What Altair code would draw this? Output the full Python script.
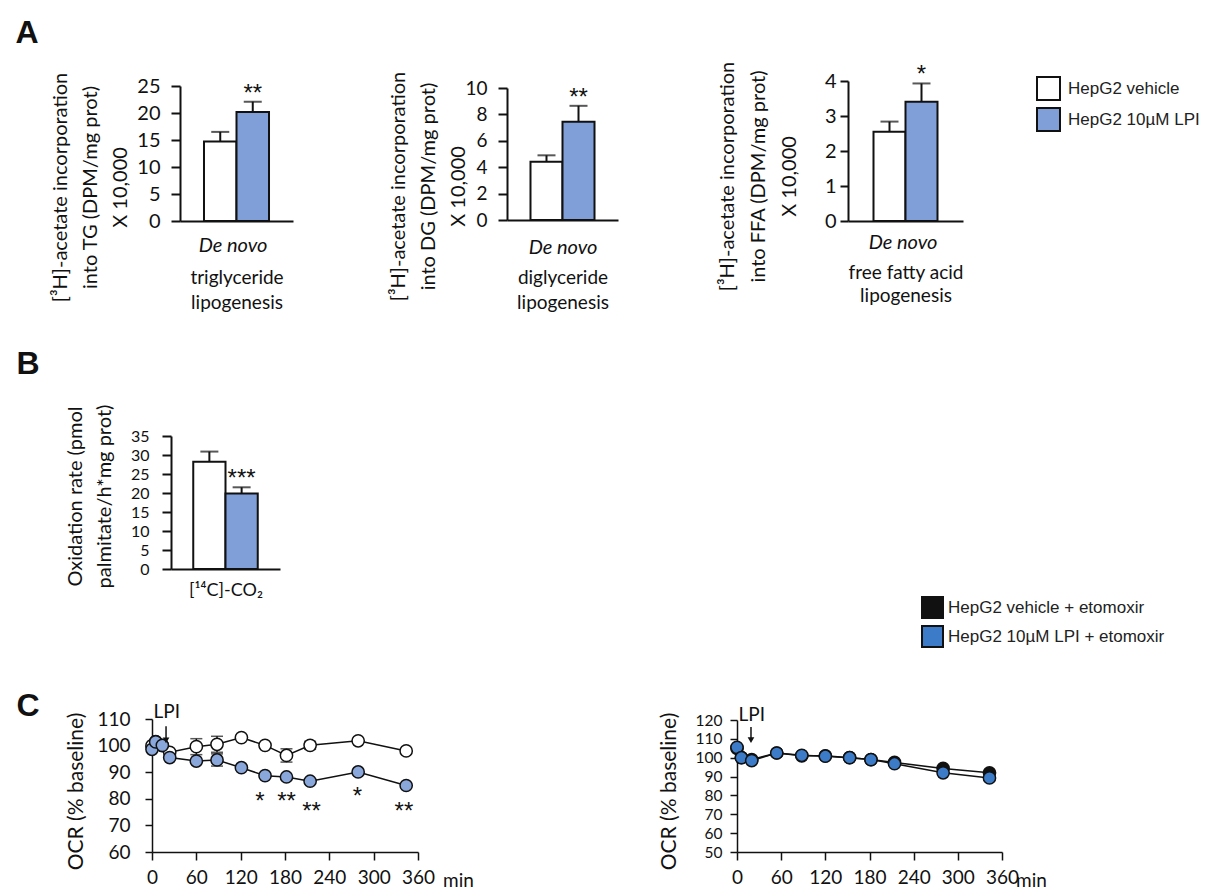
import altair as alt
import pandas as pd

W, H = 1229, 893
FONT = "Lato"
LFONT = "Liberation Sans"
INK = "#111111"
LIGHT_BLUE = "#809fd8"
C1_BLUE = "#8aa7dc"
C2_BLUE = "#3c7bc8"

# ---------------- data ----------------
groups = ["HepG2 vehicle", "HepG2 10µM LPI"]
groups_eto = ["HepG2 vehicle + etomoxir", "HepG2 10µM LPI + etomoxir"]

tg_mean = [14.7, 20.2]
tg_err = [1.8, 1.9]
tg_star = ["", "**"]

dg_mean = [4.42, 7.45]
dg_err = [0.48, 1.2]
dg_star = ["", "**"]

ffa_mean = [2.55, 3.41]
ffa_err = [0.29, 0.52]
ffa_star = ["", "*"]

ox_mean = [28.2, 19.9]
ox_err = [2.7, 1.6]
ox_star = ["", "***"]

c1_time = [0, 5, 14, 24, 60, 88, 121, 153, 182, 214, 279, 344]
c1_veh = [100.0, 101.5, 100.0, 97.5, 99.6, 100.5, 103.0, 100.1, 96.3, 100.1, 101.8, 98.0]
c1_veh_err = [1.0, 1.0, 1.0, 1.0, 3.0, 3.0, 1.0, 1.0, 2.5, 1.5, 1.0, 1.0]
c1_lpi = [98.6, 101.4, 100.1, 95.5, 94.2, 94.6, 91.7, 88.7, 88.2, 86.6, 90.1, 85.0]
c1_lpi_err = [1.0, 1.0, 1.0, 1.0, 1.0, 2.3, 1.0, 1.0, 1.0, 1.0, 1.0, 1.0]
c1_star_time = [146, 182, 216, 278, 341]
c1_star_y = [80.8, 80.8, 77.0, 82.7, 77.0]
c1_star_txt = ["*", "**", "**", "*", "**"]

c2_time = [0, 6, 20, 54, 88, 120, 153, 182, 214, 280, 343]
c2_veh = [105.0, 100.0, 99.0, 102.5, 101.0, 101.0, 100.0, 99.0, 97.5, 94.3, 92.0]
c2_lpi = [105.5, 100.0, 98.5, 102.5, 101.3, 100.8, 100.0, 99.0, 96.8, 92.0, 89.3]

lpi_time = 19
c1_arrow = [107.3, 102.0, 112.6]   # arrow top, arrow head, label
c2_arrow = [116.3, 109.3, 122.7]


def dummy():
    return pd.DataFrame({"a": [0]})


def text_at(txt, x, y, size, style="normal", weight="normal", font=FONT, align="center"):
    return alt.Chart(dummy()).mark_text(
        text=txt, font=font, fontSize=size, fontStyle=style, fontWeight=weight,
        color=INK, align=align, baseline="middle"
    ).encode(x=alt.value(x), y=alt.value(y))


def bar_panel(mean, err, star, ymax, ystep, xr, yr, po, tick_fs, lab_pad, tick_size,
              ytitle, ytx, yty, ylh, xlines, xty, xlh, denovo=None, legend=None,
              title_fs=20, xtitle_fs=19):
    df = pd.DataFrame({
        "group": groups,
        "mean": mean,
        "top": [m + e for m, e in zip(mean, err)],
        "star": star,
    })
    xscale = alt.Scale(domain=groups, range=xr, paddingInner=0, paddingOuter=po)
    yscale = alt.Scale(domain=[0, ymax], range=yr, nice=False, zero=False)
    x_axis = alt.Axis(
        orient="bottom", offset=yr[0] - H, labels=False, ticks=False, grid=False,
        domainColor=INK, domainWidth=2, title=xlines, titleFont=FONT,
        titleFontSize=xtitle_fs, titleFontWeight="normal", titleColor=INK,
        titleBaseline="middle", titleY=xty, titleLineHeight=xlh, titleLimit=1000,
    )
    y_axis = alt.Axis(
        orient="left", offset=-xr[0], values=list(range(0, ymax + 1, ystep)), format="d",
        grid=False, domainColor=INK, domainWidth=2, tickColor=INK, tickWidth=2,
        tickSize=tick_size, labelFont=FONT, labelFontSize=tick_fs, labelColor=INK,
        labelPadding=lab_pad, labelOverlap=False, labelBaseline="middle",
        title=ytitle, titleFont=FONT, titleFontSize=title_fs, titleFontWeight="normal",
        titleColor=INK, titleAngle=270, titleAlign="center", titleBaseline="middle",
        titleX=ytx, titleY=yty, titleLineHeight=ylh, titleLimit=1000,
    )
    base = alt.Chart(df)
    bars = base.mark_bar(stroke=INK, strokeWidth=2).encode(
        x=alt.X("group:N", scale=xscale, axis=x_axis, sort=groups),
        y=alt.Y("mean:Q", scale=yscale, axis=y_axis),
        fill=alt.Fill("group:N", scale=alt.Scale(domain=groups, range=["white", LIGHT_BLUE]),
                      legend=legend),
    )
    rule = base.mark_rule(color=INK, strokeWidth=2).encode(
        x=alt.X("group:N", sort=groups), y="mean:Q", y2="top:Q",
    )
    cap = base.mark_tick(orient="horizontal", size=18, thickness=2, color=INK).encode(
        x=alt.X("group:N", sort=groups), y="top:Q",
    )
    stars = base.mark_text(font=LFONT, fontSize=24, color=INK, baseline="alphabetic", dy=-1).encode(
        x=alt.X("group:N", sort=groups), y="top:Q", text="star:N",
    )
    layers = [bars, rule, cap, stars]
    if denovo is not None:
        layers.append(text_at("De novo", denovo[0], denovo[1], 20, style="italic"))
    return alt.layer(*layers)


A_LEG = alt.Legend(
    orient="none", legendX=1036, legendY=76, title=None, symbolType="square",
    symbolSize=529, symbolStrokeColor=INK, symbolStrokeWidth=2, symbolOpacity=1,
    labelFont=LFONT, labelFontSize=17, labelColor="#222222", rowPadding=0,
    labelOffset=7, padding=0, labelLimit=0,
)

# first title line centre is given by titleX / titleY (relative to the axis)
a1 = bar_panel(tg_mean, tg_err, tg_star, 25, 5, [180, 293], [221, 86], 0.738, 20, 11, 9,
               ["[³H]-acetate incorporation", "into TG (DPM/mg prot)", "X 10,000"], -120, 187, 30,
               ["triglyceride", "lipogenesis"], 56, 25, denovo=(233, 246), legend=A_LEG)
a2 = bar_panel(dg_mean, dg_err, dg_star, 10, 2, [507, 618], [220, 88], 0.734, 19, 11, 9,
               ["[³H]-acetate incorporation", "into DG (DPM/mg prot)", "X 10,000"], -109, 186, 30,
               ["diglyceride", "lipogenesis"], 57, 25, denovo=(563, 248))
a3 = bar_panel(ffa_mean, ffa_err, ffa_star, 4, 1, [848, 963], [221, 81], 0.797, 20, 4, 8,
               ["[³H]-acetate incorporation", "into FFA (DPM/mg prot)", "X 10,000"], -121, 176, 31,
               ["free fatty acid", "lipogenesis"], 51, 23, denovo=(903, 243))
b = bar_panel(ox_mean, ox_err, ox_star, 35, 5, [171, 280], [569, 436], 0.69, 16, 13, 9,
              ["Oxidation rate (pmol", "palmitate/h*mg prot)"], -96, 496, 29,
              "[¹⁴C]-CO₂", 21, 20, denovo=None, title_fs=20, xtitle_fs=18)


def line_axes(xr, yr, ydom, ystep, tick_fs, ylab_pad, ytick, ytx, yty):
    xs = alt.Scale(domain=[0, 360], range=xr, nice=False, zero=False)
    ys = alt.Scale(domain=ydom, range=yr, nice=False, zero=False)
    xax = alt.Axis(
        orient="bottom", offset=yr[0] - H, values=list(range(0, 361, 60)), grid=False,
        tickSize=8, tickWidth=1.5, tickColor=INK, domainColor=INK, domainWidth=1.5,
        labelFont=FONT, labelFontSize=19, labelColor=INK, labelPadding=8,
        labelFlush=False, labelOverlap=False, title=None,
    )
    yax = alt.Axis(
        orient="left", offset=-xr[0], values=list(range(ydom[0], ydom[1] + 1, ystep)),
        format="d", grid=False, tickSize=ytick, tickWidth=1.5, tickColor=INK, domainColor=INK,
        domainWidth=1.5, labelFont=FONT, labelFontSize=tick_fs, labelColor=INK,
        labelPadding=ylab_pad, labelOverlap=False, labelBaseline="middle",
        title="OCR (% baseline)", titleFont=FONT, titleFontSize=21, titleFontWeight="normal",
        titleColor=INK, titleAngle=270, titleAlign="center", titleBaseline="middle",
        titleX=ytx, titleY=yty, titleLimit=1000,
    )
    return xs, ys, xax, yax


def line_panel(times, veh, veh_err, lpi, lpi_err, names, colors, xr, yr, ydom, ystep,
               tick_fs, ylab_pad, ytick, ytx, yty, arrow, min_dx, legend=None,
               star_t=None, star_y=None, star_txt=None):
    n = len(times)
    df = pd.DataFrame({
        "time": list(times) * 2,
        "value": list(veh) + list(lpi),
        "err": list(veh_err) + list(lpi_err),
        "series": [names[0]] * n + [names[1]] * n,
    })
    df["lo"] = df["value"] - df["err"]
    df["hi"] = df["value"] + df["err"]
    xs, ys, xax, yax = line_axes(xr, yr, ydom, ystep, tick_fs, ylab_pad, ytick, ytx, yty)
    base = alt.Chart(df)
    line = base.mark_line(color=INK, strokeWidth=1.5).encode(
        x=alt.X("time:Q", scale=xs, axis=xax),
        y=alt.Y("value:Q", scale=ys, axis=yax),
        detail="series:N",
    )
    errs = base.transform_filter("datum.err > 1.2")
    rule = errs.mark_rule(color=INK, strokeWidth=1.5).encode(x="time:Q", y="lo:Q", y2="hi:Q")
    cap_hi = errs.mark_tick(orient="horizontal", size=12, thickness=1.5, color=INK).encode(
        x="time:Q", y="hi:Q")
    cap_lo = errs.mark_tick(orient="horizontal", size=12, thickness=1.5, color=INK).encode(
        x="time:Q", y="lo:Q")
    pts = base.mark_point(filled=True, size=150, stroke=INK, strokeWidth=1.5, opacity=1).encode(
        x="time:Q", y="value:Q",
        fill=alt.Fill("series:N", scale=alt.Scale(domain=names, range=colors), legend=legend),
    )
    adf = pd.DataFrame({"t": [lpi_time], "top": [arrow[0]], "head": [arrow[1]],
                        "lab": [arrow[2]], "t0": [2], "txt": ["LPI"],
                        "tmax": [360], "ymin": [ydom[0]], "unit": ["min"]})
    abase = alt.Chart(adf)
    arr = abase.mark_rule(color=INK, strokeWidth=1.5).encode(x="t:Q", y="top:Q", y2="head:Q")
    head = abase.mark_point(shape="triangle-down", filled=True, size=45, color=INK, opacity=1).encode(
        x="t:Q", y="head:Q")
    lab = abase.mark_text(font=FONT, fontSize=19, color=INK, align="left", baseline="middle").encode(
        x="t0:Q", y="lab:Q", text="txt:N")
    unit = abase.mark_text(font=FONT, fontSize=19, color=INK, align="left", baseline="top",
                           dx=min_dx, dy=20).encode(x="tmax:Q", y="ymin:Q", text="unit:N")
    layers = [line, rule, cap_hi, cap_lo, pts, arr, head, lab, unit]
    if star_t is not None:
        sdf = pd.DataFrame({"time": star_t, "value": star_y, "s": star_txt})
        stars = alt.Chart(sdf).mark_text(font=LFONT, fontSize=24, color=INK,
                                         baseline="alphabetic", dy=12).encode(
            x="time:Q", y="value:Q", text="s:N")
        layers.append(stars)
    return alt.layer(*layers)


C_LEG = alt.Legend(
    orient="none", legendX=921, legendY=596, title=None, symbolType="square",
    symbolSize=441, symbolStrokeColor=INK, symbolStrokeWidth=2, symbolOpacity=1,
    labelFont=LFONT, labelFontSize=17, labelColor="#222222", rowPadding=0,
    labelOffset=4, padding=0, labelLimit=0,
)

c1 = line_panel(c1_time, c1_veh, c1_veh_err, c1_lpi, c1_lpi_err, groups, ["white", C1_BLUE],
                [152, 418], [852, 719], [60, 110], 10, 19, 15, 7, -76, 791,
                c1_arrow, 25, legend=None,
                star_t=c1_star_time, star_y=c1_star_y, star_txt=c1_star_txt)
c2_err = [0.0] * len(c2_time)
c2 = line_panel(c2_time, c2_veh, c2_err, c2_lpi, c2_err, groups_eto, ["#111111", C2_BLUE],
                [737, 1002], [852, 720], [50, 120], 10, 15.5, 8, 7, -68, 791,
                c2_arrow, 14, legend=C_LEG)

letters = [
    text_at("A", 27, 33, 32, weight="bold", font=LFONT),
    text_at("B", 28, 364, 32, weight="bold", font=LFONT),
    text_at("C", 28, 706, 32, weight="bold", font=LFONT),
]

chart = alt.layer(a1, a2, a3, b, c1, c2, *letters).resolve_scale(
    x="independent", y="independent", fill="independent"
).resolve_axis(
    x="independent", y="independent"
).resolve_legend(
    fill="independent"
).properties(
    width=W, height=H, padding=0, autosize=alt.AutoSizeParams(type="none"),
    background="white",
).configure_view(stroke=None)

chart.save("out.html", embed_options={"renderer": "svg", "actions": False})
